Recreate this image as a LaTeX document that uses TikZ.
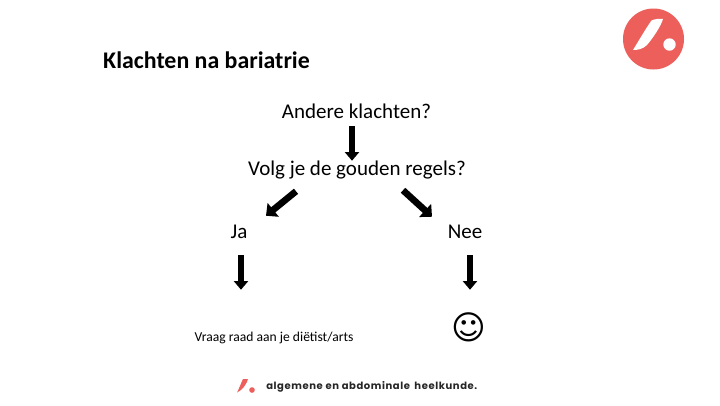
\documentclass[tikz,border=0pt]{standalone}
\usepackage{fontspec}
\setmainfont{Carlito}
\newfontfamily\footfont[LetterSpace=6]{Poppins}
\newfontfamily\symfont{DejaVu Sans}
\usetikzlibrary{arrows.meta}
\definecolor{brand}{HTML}{EC5F5B}
\tikzset{
  px/.style={x=0.75pt,y=-0.75pt},
  label/.style={font=\fontsize{15.75}{18}\selectfont,text=black,inner sep=0pt,minimum height=15pt,anchor=center},
  bigarrow/.style={line width=5pt,draw=black,-{Triangle[length=7pt,width=13pt]}},
  downarrow/.style={line width=5pt,draw=black,-{Triangle[length=6.5pt,width=10.5pt]}},
}
\begin{document}
\begin{tikzpicture}[px]
\path[use as bounding box,fill=white] (0,0) rectangle (720,405);
\node[font=\bfseries\fontsize{17.9}{20}\selectfont,inner sep=0pt,anchor=center] (title) at (206.5,60) {Klachten na bariatrie};
\node[label] (andere) at (356.5,111) {Andere klachten?};
\node[label] (volg) at (357,170.5) {Volg je de gouden regels?};
\node[label] (ja) at (239,232) {Ja};
\node[label] (nee) at (465,232) {Nee};
\node[font=\fontsize{10.2}{11}\selectfont,inner sep=0pt,minimum height=15pt,anchor=center] (vraag) at (274,338) {Vraag raad aan je diëtist/arts};
\node[font=\symfont\fontsize{25}{28}\selectfont,inner sep=0pt,minimum height=30pt,anchor=center] (smiley) at (468.5,327.5) {☺};
\draw[downarrow] ([shift={(-4.5,5)}]andere.south) -- ([shift={(-5,0.5)}]volg.north);
\draw[bigarrow] ([shift={(-61,10.5)}]volg.south) -- ([shift={(27,-6)}]ja.north);
\draw[bigarrow] ([shift={(46,9.5)}]volg.south) -- ([shift={(-33,-5)}]nee.north);
\draw[downarrow] ([shift={(2,13)}]ja.south) -- ([shift={(-33,-38)}]vraag.north);
\draw[downarrow] ([shift={(5,13)}]nee.south) -- ([shift={(1.5,-17.5)}]smiley.north);
% logo
\fill[brand] (653.5,39) circle (30.5);
\fill[white] (651.5,20.5) .. controls (654,19) and (660,18.5) .. (663,19) .. controls (661,26) and (653,38) .. (647,45) .. controls (643,49) and (638,50) .. (633,50) .. controls (638,42) and (646,28) .. (651.5,20.5) -- cycle;
\fill[white] (669.5,44.5) circle (6.2);
% footer mark
\fill[brand] (243,379) -- (248,379) .. controls (247,383) and (243,390) .. (237,392.5) .. controls (239,389) and (241,383) .. (243,379) -- cycle;
\fill[brand] (252,390) circle (2.8);
\node[font=\footfont\bfseries\fontsize{7.5}{9}\selectfont,text=black!85,inner sep=0pt,anchor=west] (foot) at (266,387) {algemene en abdominale\, heelkunde.};
\end{tikzpicture}
\end{document}
